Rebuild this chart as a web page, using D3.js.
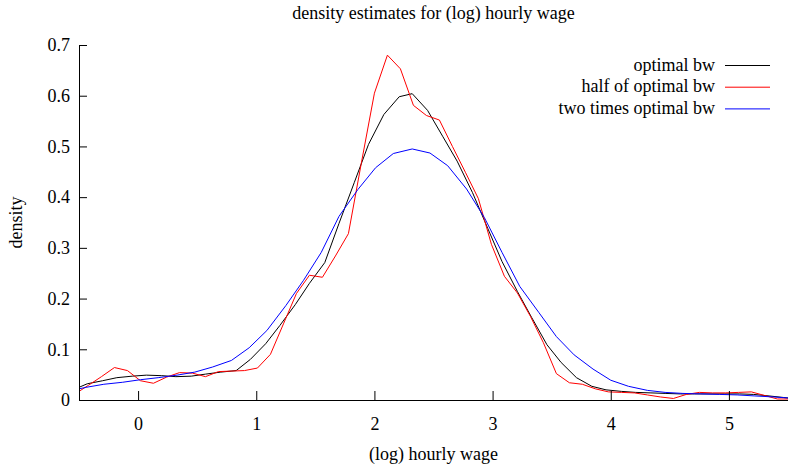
<!DOCTYPE html>
<html>
<head>
<meta charset="utf-8">
<script src="https://cdn.jsdelivr.net/npm/d3@7"></script>
<style>
  body { margin: 0; background: #fff; }
  text { font-family: "Liberation Serif", "Times New Roman", serif; }
</style>
</head>
<body>
<div class="canvas"></div>
<script>
// values (x = log hourly wage, y = density)
var optimalX = [-0.5, -0.43, -0.30, -0.18, -0.05, 0.07, 0.20, 0.32, 0.45, 0.57, 0.70, 0.83, 0.95,
    1.08, 1.20, 1.33, 1.45, 1.58, 1.70, 1.83, 1.95, 2.08, 2.21, 2.32, 2.45, 2.58, 2.70, 2.83, 2.96,
    3.08, 3.21, 3.33, 3.46, 3.58, 3.71, 3.84, 3.96, 4.09, 4.21, 4.34, 4.46, 4.59, 4.71, 4.84, 4.96,
    5.09, 5.21, 5.34, 5.46, 5.5];
var optimalY = [0.025, 0.032, 0.038, 0.044, 0.047, 0.049, 0.048, 0.046, 0.047, 0.051, 0.055, 0.058, 0.080,
    0.111, 0.147, 0.188, 0.230, 0.271, 0.348, 0.429, 0.504, 0.563, 0.598, 0.604, 0.571, 0.519, 0.471, 0.409, 0.338,
    0.273, 0.214, 0.163, 0.109, 0.074, 0.044, 0.027, 0.020, 0.017, 0.015, 0.014, 0.013, 0.012, 0.012, 0.012, 0.012,
    0.012, 0.011, 0.008, 0.005, 0.004];

var halfX = [-0.5, -0.42, -0.31, -0.20, -0.09, 0.02, 0.13, 0.24, 0.35, 0.46, 0.57, 0.68, 0.79, 0.90,
    1.01, 1.12, 1.23, 1.34, 1.45, 1.56, 1.67, 1.78, 1.89, 2.00, 2.11, 2.22, 2.33, 2.44, 2.55, 2.66,
    2.77, 2.88, 2.99, 3.10, 3.21, 3.32, 3.43, 3.54, 3.65, 3.76, 3.87, 3.98, 4.09, 4.20, 4.31, 4.42,
    4.53, 4.64, 4.75, 4.86, 4.97, 5.08, 5.19, 5.30, 5.41, 5.5];
var halfY = [0.017, 0.029, 0.046, 0.064, 0.058, 0.038, 0.033, 0.045, 0.054, 0.053, 0.046, 0.056, 0.057, 0.058,
    0.063, 0.090, 0.150, 0.210, 0.246, 0.242, 0.284, 0.328, 0.468, 0.605, 0.680, 0.653, 0.581, 0.561, 0.552, 0.500,
    0.449, 0.397, 0.307, 0.244, 0.211, 0.165, 0.113, 0.052, 0.034, 0.031, 0.022, 0.016, 0.015, 0.014, 0.010, 0.006,
    0.003, 0.011, 0.015, 0.014, 0.014, 0.015, 0.016, 0.009, 0.002, 0.002];

var doubleX = [-0.5, -0.44, -0.29, -0.13, 0.02, 0.17, 0.33, 0.48, 0.63, 0.79, 0.94, 1.09, 1.25, 1.40,
    1.55, 1.70, 1.86, 2.01, 2.16, 2.32, 2.47, 2.62, 2.78, 2.93, 3.08, 3.23, 3.39, 3.54, 3.69, 3.85,
    4.00, 4.15, 4.31, 4.46, 4.61, 4.76, 4.92, 5.07, 5.22, 5.38, 5.5];
var doubleY = [0.022, 0.025, 0.031, 0.035, 0.040, 0.044, 0.049, 0.055, 0.065, 0.078, 0.103, 0.137, 0.186, 0.236,
    0.291, 0.362, 0.415, 0.458, 0.486, 0.495, 0.487, 0.462, 0.416, 0.360, 0.291, 0.224, 0.173, 0.125, 0.089, 0.061,
    0.039, 0.027, 0.019, 0.015, 0.013, 0.012, 0.011, 0.010, 0.008, 0.006, 0.004];

var seriesNames = ["optimal bw", "half of optimal bw", "two times optimal bw"];
var seriesColors = ["#000000", "#ff0000", "#0000ff"];

var xTicks = [0, 1, 2, 3, 4, 5];
var xTickLabels = ["0", "1", "2", "3", "4", "5"];
var yTicks = [0, 0.1, 0.2, 0.3, 0.4, 0.5, 0.6, 0.7];
var yTickLabels = ["0", "0.1", "0.2", "0.3", "0.4", "0.5", "0.6", "0.7"];

var W = 788, H = 465;
var plotLeft = 79, plotBottom = 400, plotRight = 788, plotTop = 45;

var svg = d3.select(".canvas").append("svg")
    .attr("width", W)
    .attr("height", H);

var x = d3.scaleLinear().domain([-0.5, 5.5]).range([plotLeft, plotRight]);
var y = d3.scaleLinear().domain([0, 0.7]).range([plotBottom, plotTop]);

function zip(xs, ys) {
    return xs.map(function (d, i) { return { x: d, y: ys[i] }; });
}
var series = [zip(optimalX, optimalY), zip(halfX, halfY), zip(doubleX, doubleY)];

var line = d3.line()
    .x(function (d) { return x(d.x); })
    .y(function (d) { return y(d.y); });

// curves
series.forEach(function (s, i) {
    svg.append("path")
        .datum(s)
        .attr("fill", "none")
        .attr("stroke", seriesColors[i])
        .attr("stroke-width", 1)
        .attr("d", line);
});

// axes (ticks point inward, like gnuplot)
var gx = svg.append("g")
    .attr("transform", "translate(0," + plotBottom + ")")
    .call(d3.axisBottom(x).tickValues(xTicks).tickSizeInner(-9).tickSizeOuter(0).tickPadding(17)
        .tickFormat(function (d, i) { return xTickLabels[i]; }));
var gy = svg.append("g")
    .attr("transform", "translate(" + plotLeft + ",0)")
    .call(d3.axisLeft(y).tickValues(yTicks).tickSizeInner(-8).tickSizeOuter(0).tickPadding(9)
        .tickFormat(function (d, i) { return yTickLabels[i]; }));

[gx, gy].forEach(function (g) {
    g.attr("font-family", null).attr("font-size", null);
    g.selectAll("text").style("font-size", "18px").attr("fill", "#000");
    g.selectAll("line").attr("stroke", "#000");
    g.select(".domain").attr("stroke", "#000");
});

// title and axis labels
svg.append("text")
    .attr("x", 433.5).attr("y", 19)
    .attr("text-anchor", "middle")
    .style("font-size", "18px")
    .text("density estimates for (log) hourly wage");

svg.append("text")
    .attr("x", 433.5).attr("y", 460)
    .attr("text-anchor", "middle")
    .style("font-size", "18px")
    .text("(log) hourly wage");

svg.append("text")
    .attr("transform", "translate(22," + (plotBottom + plotTop) / 2 + ") rotate(-90)")
    .attr("text-anchor", "middle")
    .style("font-size", "18px")
    .text("density");

// legend
var legend = svg.selectAll(".lineLegend").data(seriesNames)
    .enter().append("g")
    .attr("class", "lineLegend")
    .attr("transform", function (d, i) { return "translate(0," + (65 + i * 21.7) + ")"; });
legend.append("text")
    .attr("x", 715).attr("y", 5.5)
    .attr("text-anchor", "end")
    .style("font-size", "18px")
    .text(function (d) { return d; });
legend.append("line")
    .attr("x1", 725).attr("x2", 770)
    .attr("y1", 0.5).attr("y2", 0.5)
    .attr("stroke", function (d, i) { return seriesColors[i]; })
    .attr("stroke-width", 1);
</script>
</body>
</html>
